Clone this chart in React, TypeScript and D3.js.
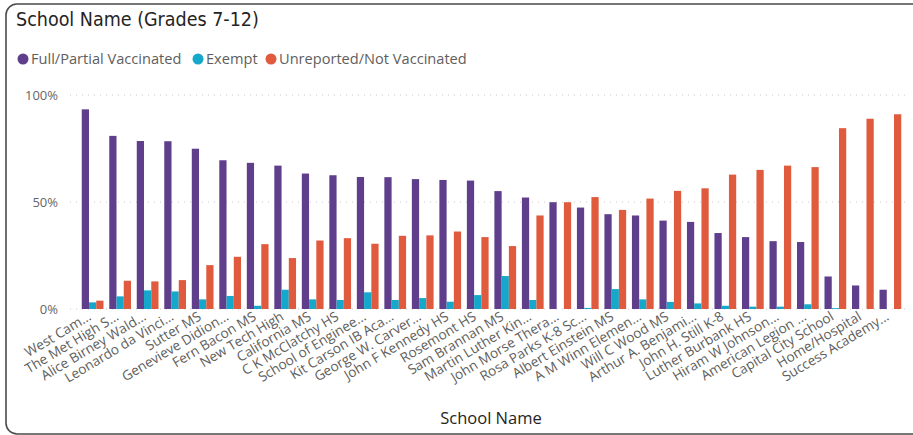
import { useEffect, useRef } from 'react'
import * as d3 from 'd3'

const schools = [
  'West Cam…', 'The Met High S…', 'Alice Birney Wald…', 'Leonardo da Vinci…', 'Sutter MS',
  'Genevieve Didion…', 'Fern Bacon MS', 'New Tech High', 'California MS', 'C K McClatchy HS',
  'School of Enginee…', 'Kit Carson IB Aca…', 'George W. Carver…', 'John F Kennedy HS', 'Rosemont HS',
  'Sam Brannan MS', 'Martin Luther Kin…', 'John Morse Thera…', 'Rosa Parks K-8 Sc…', 'Albert Einstein MS',
  'A M Winn Elemen…', 'Will C Wood MS', 'Arthur A. Benjami…', 'John H. Still K-8', 'Luther Burbank HS',
  'Hiram W Johnson…', 'American Legion …', 'Capital City School', 'Home/Hospital', 'Success Academy…',
]

const vaccinated = [
  93.3, 80.9, 78.5, 78.4, 74.9, 69.5, 68.3, 67.0, 63.3, 62.5,
  61.7, 61.6, 60.7, 60.3, 60.0, 55.1, 52.1, 49.9, 47.4, 44.3,
  43.7, 41.3, 40.7, 35.5, 33.6, 31.7, 31.3, 15.2, 11.0, 9.0,
]
const exempt = [
  3.1, 5.9, 8.7, 8.2, 4.5, 6.1, 1.5, 9.0, 4.5, 4.2,
  7.8, 4.2, 5.1, 3.4, 6.5, 15.4, 4.2, 0, 0.5, 9.3,
  4.5, 3.3, 2.6, 1.5, 1.1, 1.1, 2.2, 0.4, 0, 0,
]
const unreported = [
  3.9, 13.2, 12.9, 13.5, 20.5, 24.4, 30.3, 23.8, 32.0, 33.1,
  30.5, 34.2, 34.4, 36.2, 33.6, 29.4, 43.7, 49.9, 52.3, 46.3,
  51.6, 55.2, 56.4, 62.8, 65.0, 67.0, 66.3, 84.5, 88.9, 91.0,
]

const seriesNames = ['Full/Partial Vaccinated', 'Exempt', 'Unreported/Not Vaccinated']
const seriesColors = ['#5F3F8B', '#16A8CA', '#E05A3D']
const yTicks = [0, 50, 100]

export default function App() {
  const svgRef = useRef<SVGSVGElement>(null)
  const width = 913
  const height = 435

  useEffect(() => {
    if (!svgRef.current) return
    const svg = d3.select(svgRef.current)
    svg.selectAll('*').remove()

    const font = '"Open Sans", "Noto Sans", sans-serif'

    // card frame
    svg.append('rect')
      .attr('x', 6).attr('y', 4)
      .attr('width', 930).attr('height', 430)
      .attr('rx', 11)
      .attr('fill', '#fff')
      .attr('stroke', '#4a4a4a')
      .attr('stroke-width', 1.6)

    svg.append('text')
      .attr('x', 16).attr('y', 26)
      .style('font-family', '"DejaVu Sans Condensed", "DejaVu Sans", sans-serif')
      .style('font-size', '19.5px')
      .style('fill', '#252423')
      .text('School Name (Grades 7-12)')

    // legend
    const legendX = [23, 198, 271]
    seriesNames.forEach((name, i) => {
      svg.append('circle')
        .attr('cx', legendX[i]).attr('cy', 59).attr('r', 5.5)
        .attr('fill', seriesColors[i])
      svg.append('text')
        .attr('x', legendX[i] + 8).attr('y', 64)
        .style('font-family', font)
        .style('font-size', '14.6px')
        .style('fill', '#605E5C')
        .text(name)
    })

    const margin = { top: 95, left: 79, right: 9, bottom: 126 }
    const innerW = width - margin.left - margin.right
    const innerH = height - margin.top - margin.bottom

    const x = d3.scaleBand<string>()
      .domain(schools)
      .range([0, innerW])
      .paddingInner(0.21)
      .paddingOuter(0.1)

    const sub = d3.scaleBand<number>()
      .domain([0, 1, 2])
      .range([0, x.bandwidth()])

    const y = d3.scaleLinear().domain([0, 100]).range([innerH, 0])

    const g = svg.append('g').attr('transform', `translate(${margin.left},${margin.top})`)

    // gridlines
    g.selectAll('.grid')
      .data(yTicks)
      .enter().append('line')
      .attr('x1', -9).attr('x2', innerW + 2)
      .attr('y1', d => y(d)).attr('y2', d => y(d))
      .attr('stroke', '#c8c8c8')
      .attr('stroke-width', 1)
      .attr('stroke-dasharray', '1,5')

    // y axis labels
    g.selectAll('.ylab')
      .data(yTicks)
      .enter().append('text')
      .attr('x', -21)
      .attr('y', d => y(d))
      .attr('dy', '0.35em')
      .attr('text-anchor', 'end')
      .style('font-family', font)
      .style('font-size', '13px')
      .style('fill', '#666')
      .text(d => `${d}%`)

    const series = [vaccinated, exempt, unreported]
    series.forEach((vals, si) => {
      g.selectAll(`.bar${si}`)
        .data(vals)
        .enter().append('rect')
        .attr('x', (_d, i) => (x(schools[i]) || 0) + (sub(si) || 0))
        .attr('width', sub.bandwidth())
        .attr('y', d => y(d))
        .attr('height', d => innerH - y(d))
        .attr('fill', seriesColors[si])
    })

    // x labels
    g.selectAll('.xlab')
      .data(schools)
      .enter().append('text')
      .attr('transform', d => `translate(${(x(d) || 0) + x.bandwidth() / 2 - 3},${innerH + 6}) rotate(-31)`)
      .attr('text-anchor', 'end')
      .attr('dy', '0.35em')
      .style('font-family', font)
      .style('font-size', '13.6px')
      .style('fill', '#605E5C')
      .text(d => d)

    svg.append('text')
      .attr('x', 491).attr('y', 424)
      .attr('text-anchor', 'middle')
      .style('font-family', font)
      .style('font-size', '16.5px')
      .style('fill', '#252423')
      .text('School Name')
  }, [])

  return (
    <svg
      ref={svgRef}
      width={width}
      height={height}
      style={{ position: 'absolute', left: 0, top: 0, background: '#fff' }}
    />
  )
}
